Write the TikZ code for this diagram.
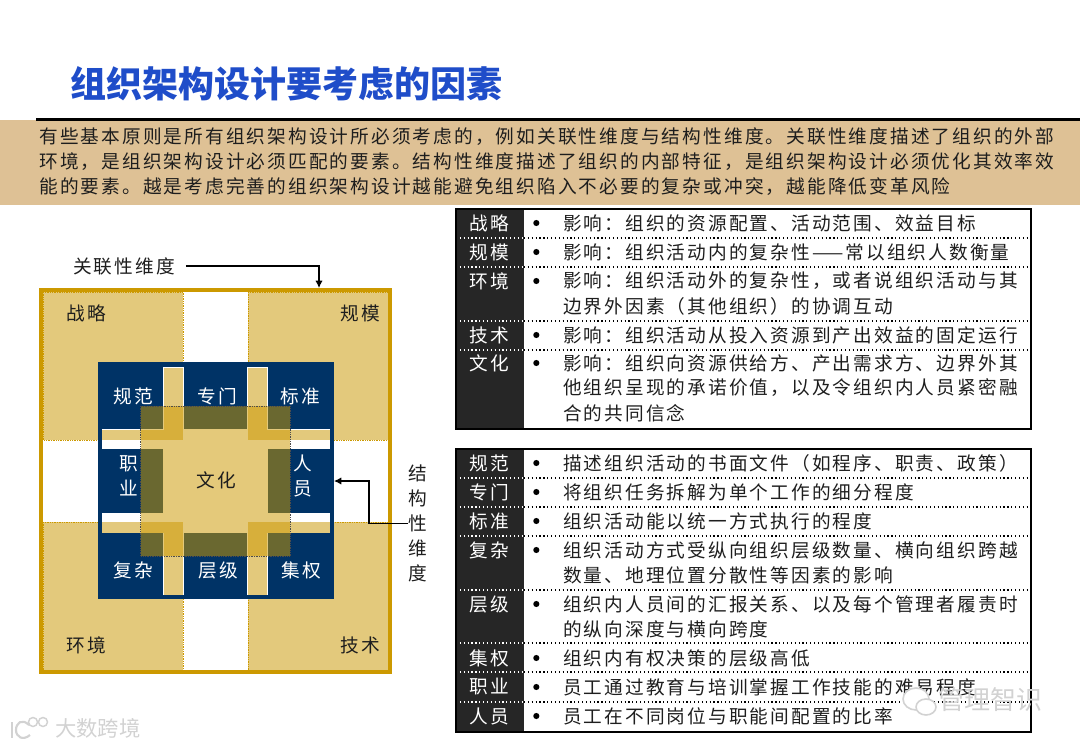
\documentclass[tikz,border=0pt]{standalone}
\usepackage{fontspec}
\usepackage{xcolor}
\usetikzlibrary{arrows.meta,positioning}
\setmainfont{Noto Sans CJK SC}
\newfontfamily\bodyfont[LetterSpace=11.2]{Noto Sans CJK SC}
\definecolor{goldline}{HTML}{CC9900}
\definecolor{goldfill}{HTML}{E3C97C}
\definecolor{navyfill}{HTML}{003366}
\definecolor{tanband}{HTML}{DEC195}
\definecolor{tagdark}{HTML}{262626}
\definecolor{titleblue}{HTML}{1F4DC9}
\definecolor{inktext}{HTML}{1E1E1E}
\definecolor{markgray}{HTML}{D2D2D2}

\begin{document}
\begin{tikzpicture}[
    x=0.75pt, y=-0.75pt,
    quadrant/.style={fill=goldfill, draw=goldline, densely dotted, line width=0.3pt},
    cutout/.style={fill=white},
    strip/.style={fill=goldfill},
    bodytext/.style={font=\bodyfont\fontsize{14}{18.75}\selectfont, text=inktext, inner sep=0pt, align=center},
    lighttext/.style={bodytext, text=white},
    tag/.style={bodytext, text=white},
    dotmark/.style={circle, fill=black, inner sep=0pt, minimum size=4.6pt},
    rowtext/.style={bodytext, align=left, anchor=west},
    rowrule/.style={dotted, line width=0.9pt},
    watermark/.style={font=\fontsize{#1}{#1}\selectfont, text=markgray, inner sep=0pt},
    arrow/.style={-{Latex[length=5.5pt,width=5.5pt]}, line width=0.8pt, black}
]
\useasboundingbox (0,0) rectangle (1080,748);

\node[font=\bfseries\fontsize{27}{30}\selectfont, text=titleblue, inner sep=0pt, anchor=west] (title) at (70,84) {组织架构设计要考虑的因素};
\fill[tanband] (0,120) rectangle (1080,205);
\fill[black] (36,118) rectangle (1080,121);
\node[rowtext] (intro) at (39,162)
    {有些基本原则是所有组织架构设计所必须考虑的，例如关联性维度与结构性维度。关联性维度描述了组织的外部\\
     环境，是组织架构设计必须匹配的要素。结构性维度描述了组织的内部特征，是组织架构设计必须优化其效率效\\
     能的要素。越是考虑完善的组织架构设计越能避免组织陷入不必要的复杂或冲突，越能降低变革风险};

\fill[goldline] (39,288) rectangle (392,674);
\fill[white] (43,292) rectangle (388,670);
\draw[quadrant] (43,292) rectangle (183,440);
\draw[quadrant] (248,292) rectangle (388,440);
\draw[quadrant] (43,522) rectangle (183,670);
\draw[quadrant] (248,522) rectangle (388,670);
\fill[navyfill] (97.5,362) rectangle (334,599);
\fill[cutout] (163,367) rectangle (267.5,595);
\fill[cutout] (101.5,429) rectangle (330,533);
\fill[navyfill] (183.5,362) rectangle (247,429);
\fill[navyfill] (183.5,533) rectangle (247,599);
\fill[navyfill] (97.5,449) rectangle (163,513);
\fill[navyfill] (267.5,449) rectangle (334,513);
\fill[strip] (164,367.5) rectangle (183,440);
\fill[strip] (102,429.5) rectangle (183,440);
\fill[strip] (248,367.5) rectangle (266.5,440);
\fill[strip] (248,429.5) rectangle (329.5,440);
\fill[strip] (164,522) rectangle (183,594.5);
\fill[strip] (102,522) rectangle (183,532.5);
\fill[strip] (248,522) rectangle (266.5,594.5);
\fill[strip] (248,522) rectangle (329.5,532.5);
\fill[goldline, fill opacity=0.52] (140.5,406) rectangle (290,556);
\draw[densely dotted, line width=0.3pt, black!70] (140.5,406) rectangle (290,556);

\node[bodytext] (zhanlue) at (86,313) {战略};
\node[bodytext] (guimo) at (360,313) {规模};
\node[bodytext] (huanjing) at (86,645) {环境};
\node[bodytext] (jishu) at (360,645) {技术};
\node[bodytext] (wenhua) at (216,480) {文化};
\node[lighttext] (guifan) at (133,396) {规范};
\node[lighttext] (zhuanmen) at (217,396) {专门};
\node[lighttext] (biaozhun) at (300,396) {标准};
\node[lighttext] (zhiye) at (129,476) {职\\业};
\node[lighttext] (renyuan) at (303,476) {人\\员};
\node[lighttext] (fuza) at (133,570) {复杂};
\node[lighttext] (cengji) at (218,570) {层级};
\node[lighttext] (jiquan) at (301,570) {集权};

\node[bodytext] (relation) at (124,266) {关联性维度};
\coordinate (framehit) at (319,288);
\draw[arrow] ([xshift=8pt]relation.east) -| (framehit);
\node[bodytext] (structure) at (418,523.5) {结\\构\\性\\维\\度};
\coordinate (navyhit) at (334,481);
\draw[arrow] (structure.west) -| (369,481) -- (navyhit);

\fill[tagdark] (456,209) rectangle (524,429);
\fill[tagdark] (456,449) rectangle (524,732);
\draw[rowrule, white] (456,238) -- (524,238) (456,267) -- (524,267) (456,321) -- (524,321) (456,350) -- (524,350);
\draw[rowrule] (524,238) -- (1031,238) (524,267) -- (1031,267) (524,321) -- (1031,321) (524,350) -- (1031,350);
\draw[rowrule, white] (456,478) -- (524,478) (456,507) -- (524,507) (456,536) -- (524,536) (456,590) -- (524,590) (456,643) -- (524,643) (456,672) -- (524,672) (456,702) -- (524,702);
\draw[rowrule] (524,478) -- (1031,478) (524,507) -- (1031,507) (524,536) -- (1031,536) (524,590) -- (1031,590) (524,643) -- (1031,643) (524,672) -- (1031,672) (524,702) -- (1031,702);
\draw[line width=1.1pt] (456,209) rectangle (1031,429);
\draw[line width=1.1pt] (456,449) rectangle (1031,732);

\node[tag] (strategy) at (489,223) {战略};
\node[dotmark, right=18pt of strategy] (strategydot) {};
\node[rowtext, right=17.4pt of strategydot] (strategytext) {影响：组织的资源配置、活动范围、效益目标};
\node[tag] (scale) at (489,252) {规模};
\node[dotmark, right=18pt of scale] (scaledot) {};
\node[rowtext, right=17.4pt of scaledot] (scaletext) {影响：组织活动内的复杂性——常以组织人数衡量};
\node[tag] (environ) at (489,281) {环境};
\node[dotmark, right=18pt of environ] (environdot) {};
\node[rowtext, right=17.4pt of environdot] (environtext) {影响：组织活动外的复杂性，或者说组织活动与其};
\node[rowtext, below=18.75pt of environtext.west, anchor=west] (environmore) {边界外因素（其他组织）的协调互动};
\node[tag] (tech) at (489,335) {技术};
\node[dotmark, right=18pt of tech] (techdot) {};
\node[rowtext, right=17.4pt of techdot] (techtext) {影响：组织活动从投入资源到产出效益的固定运行};
\node[tag] (culture) at (489,363) {文化};
\node[dotmark, right=18pt of culture] (culturedot) {};
\node[rowtext, right=17.4pt of culturedot] (culturetext) {影响：组织向资源供给方、产出需求方、边界外其};
\node[rowtext, below=18.75pt of culturetext.west, anchor=west] (culturemore) {他组织呈现的承诺价值，以及令组织内人员紧密融};
\node[rowtext, below=18.75pt of culturemore.west, anchor=west] (culturelast) {合的共同信念};

\node[tag] (norm) at (489,463) {规范};
\node[dotmark, right=18pt of norm] (normdot) {};
\node[rowtext, right=17.4pt of normdot] (normtext) {描述组织活动的书面文件（如程序、职责、政策）};
\node[tag] (special) at (489,492) {专门};
\node[dotmark, right=18pt of special] (specialdot) {};
\node[rowtext, right=17.4pt of specialdot] (specialtext) {将组织任务拆解为单个工作的细分程度};
\node[tag] (standard) at (489,521) {标准};
\node[dotmark, right=18pt of standard] (standarddot) {};
\node[rowtext, right=17.4pt of standarddot] (standardtext) {组织活动能以统一方式执行的程度};
\node[tag] (complex) at (489,550) {复杂};
\node[dotmark, right=18pt of complex] (complexdot) {};
\node[rowtext, right=17.4pt of complexdot] (complextext) {组织活动方式受纵向组织层级数量、横向组织跨越};
\node[rowtext, below=18.75pt of complextext.west, anchor=west] (complexmore) {数量、地理位置分散性等因素的影响};
\node[tag] (level) at (489,604) {层级};
\node[dotmark, right=18pt of level] (leveldot) {};
\node[rowtext, right=17.4pt of leveldot] (leveltext) {组织内人员间的汇报关系、以及每个管理者履责时};
\node[rowtext, below=18.75pt of leveltext.west, anchor=west] (levelmore) {的纵向深度与横向跨度};
\node[tag] (central) at (489,658) {集权};
\node[dotmark, right=18pt of central] (centraldot) {};
\node[rowtext, right=17.4pt of centraldot] (centraltext) {组织内有权决策的层级高低};
\node[tag] (career) at (489,687) {职业};
\node[dotmark, right=18pt of career] (careerdot) {};
\node[rowtext, right=17.4pt of careerdot] (careertext) {员工通过教育与培训掌握工作技能的难易程度};
\node[tag] (staff) at (489,716) {人员};
\node[dotmark, right=18pt of staff] (staffdot) {};
\node[rowtext, right=17.4pt of staffdot] (stafftext) {员工在不同岗位与职能间配置的比率};

\draw[markgray, line width=1.2pt, fill=white] (916,699) ellipse (13 and 11);
\draw[markgray, line width=1.2pt, fill=white] (926,707) ellipse (10 and 8);
\node[watermark=19.5, anchor=west] (wechatmark) at (938,700) {管理智识};
\draw[markgray, line width=1.6pt] (12,722) -- (12,738);
\draw[markgray, line width=1.6pt] (29,725) .. controls (22,718) and (16,723) .. (16,730) .. controls (16,737) and (23,741) .. (30,735);
\draw[markgray, line width=1.1pt] (33,722) circle (4.5) (43,722) circle (4.5);
\node[watermark=16, anchor=west] (bigdatamark) at (55,728) {大数跨境};
\end{tikzpicture}
\end{document}
